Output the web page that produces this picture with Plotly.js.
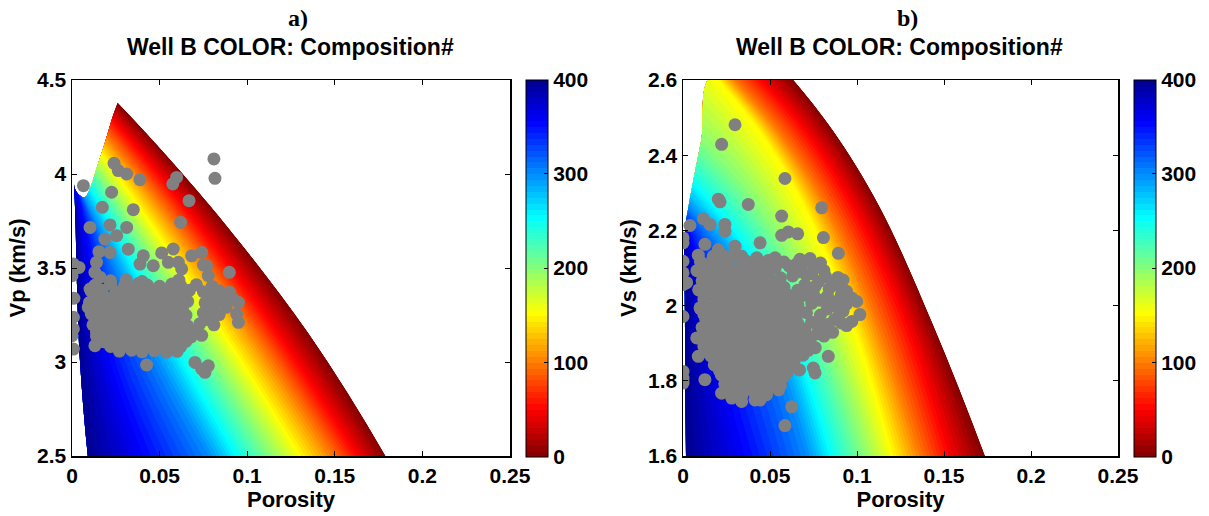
<!DOCTYPE html>
<html>
<head>
<meta charset="utf-8">
<script src="https://cdn.plot.ly/plotly-3.0.1.min.js"></script>
<style>
  html, body { margin: 0; padding: 0; background: #fff; }
  #chart { width: 1209px; height: 516px; }
</style>
</head>
<body>
<div id="chart"></div>
<script>
// Composition numbers of the model iso-lines (colour variable)
const compositionLevels = [0, 50, 100, 150, 200, 250, 300, 350, 400];
const curveStations = [0, 1, 2, 3, 4];

// Panel a: porosity / Vp of each iso-composition line, rows run from the upper boundary down to Vp = 2.5
const vpModelPhi = [
  [0.026, 0.0228, 0.0198, 0.0168, 0.0137, 0.0105, 0.0068, 0.0035, 0.0011],
  [0.054, 0.0473, 0.0416, 0.0356, 0.0296, 0.0236, 0.0171, 0.0089, 0.0020],
  [0.0885, 0.0775, 0.0685, 0.0590, 0.0494, 0.0401, 0.0296, 0.0147, 0.0027],
  [0.1346, 0.1195, 0.1070, 0.0933, 0.0792, 0.0646, 0.0495, 0.0251, 0.0045],
  [0.179, 0.163, 0.148, 0.131, 0.113, 0.095, 0.078, 0.045, 0.009]
];
const vpModelVp = [
  [4.38, 4.295, 4.20, 4.11, 4.02, 3.93, 3.876, 3.895, 3.96],
  [4.098, 4.026, 3.945, 3.868, 3.792, 3.716, 3.67, 3.686, 3.741],
  [3.722, 3.667, 3.605, 3.547, 3.488, 3.43, 3.394, 3.407, 3.449],
  [3.158, 3.128, 3.095, 3.064, 3.032, 3.0, 2.982, 2.988, 3.011],
  [2.5, 2.5, 2.5, 2.5, 2.5, 2.5, 2.5, 2.5, 2.5]
];

// Panel b: porosity / Vs of each iso-composition line, rows run from the upper boundary down to Vs = 1.6
const vsModelPhi = [
  [0.0597, 0.041, 0.0255, 0.0178, 0.0105, 0.0058, 0.0032, 0.0016, 0.0008],
  [0.086, 0.070, 0.0540, 0.0445, 0.0350, 0.0270, 0.0205, 0.0095, 0.0009],
  [0.113, 0.098, 0.0820, 0.0705, 0.0585, 0.0475, 0.0375, 0.0172, 0.0011],
  [0.143, 0.128, 0.1110, 0.0980, 0.0830, 0.0685, 0.0555, 0.0268, 0.0013],
  [0.1736, 0.153, 0.136, 0.121, 0.104, 0.086, 0.071, 0.040, 0.0017]
];
const vsModelVs = [
  [2.62, 2.62, 2.62, 2.615, 2.44, 2.33, 2.265, 2.22, 2.17],
  [2.467, 2.467, 2.467, 2.463, 2.314, 2.2205, 2.165, 2.127, 2.0845],
  [2.263, 2.263, 2.263, 2.26, 2.146, 2.0745, 2.032, 2.003, 1.9705],
  [1.957, 1.957, 1.957, 1.955, 1.894, 1.8555, 1.833, 1.817, 1.80],
  [1.6, 1.6, 1.6, 1.6, 1.6, 1.6, 1.6, 1.6, 1.6]
];

// Well B log samples: porosity and Vp (km/s)
const wellPorosityA = [
  0.081, 0.0816, 0.0065, 0.024, 0.0264, 0.0312, 0.0388, 0.0597, 0.0575, 0.0226, 0.0173, 0.035, 0.0668,
  0.0103, 0.0217, 0.0312, 0.0255, 0.0188, 0.062, 0.0154, 0.0217, 0.0321, 0.0407, 0.0464, 0.0512, 0.0578,
  0.055, 0.0626, 0.0683, 0.074, 0.075, 0.0778, 0.0898, 0.0008, 0.0, 0.004, 0.0011, 0.014, 0.0131, 0.0103,
  0.016, 0.0388, 0.0607, 0.0769, 0.0008, 0.0008, 0.0, 0.0008, 0.0093, 0.0131, 0.014, 0.092, 0.095, 0.094,
  0.095, 0.0702, 0.074, 0.0778, 0.0759, 0.0426,
  0.022, 0.031, 0.040, 0.061,
  0.013, 0.022, 0.030, 0.038, 0.043, 0.050, 0.057, 0.062, 0.071, 0.080,
  0.011, 0.017, 0.025, 0.033, 0.040, 0.047, 0.054, 0.060, 0.067, 0.075, 0.084, 0.090,
  0.014, 0.020, 0.028, 0.036, 0.044, 0.051, 0.058, 0.064, 0.079, 0.087,
  0.010, 0.018, 0.024, 0.031, 0.039, 0.046, 0.053, 0.061, 0.066, 0.076, 0.083,
  0.013, 0.021, 0.027, 0.035, 0.042, 0.049, 0.056, 0.063, 0.080, 0.088,
  0.011, 0.017, 0.024, 0.030, 0.038, 0.045, 0.052, 0.059, 0.065, 0.075, 0.084,
  0.015, 0.021, 0.028, 0.034, 0.041, 0.048, 0.055, 0.062, 0.078,
  0.012, 0.019, 0.025, 0.032, 0.039, 0.046, 0.052, 0.059, 0.066, 0.073, 0.081,
  0.016, 0.023, 0.029, 0.036, 0.043, 0.050, 0.057, 0.063, 0.070,
  0.014, 0.020, 0.027, 0.034, 0.040, 0.047, 0.054, 0.061, 0.068, 0.074,
  0.018, 0.024, 0.031, 0.038, 0.044, 0.051, 0.058, 0.065,
  0.022, 0.028, 0.035, 0.041, 0.048, 0.055, 0.062,
  0.027, 0.034, 0.040, 0.047, 0.054, 0.060
];
const wellVp = [
  4.08, 3.977, 3.938, 4.057, 4.018, 4.0, 3.97, 3.982, 3.947, 3.903, 3.823, 3.81, 3.858,
  3.716, 3.729, 3.716, 3.672, 3.654, 3.743, 3.587, 3.583, 3.60, 3.565, 3.512, 3.58, 3.601,
  3.53, 3.495, 3.565, 3.583, 3.516, 3.459, 3.477, 3.521, 3.459, 3.503, 3.339, 3.53, 3.477, 3.388,
  3.451, 3.521, 3.53, 3.512, 3.238, 3.176, 3.14, 3.069, 3.291, 3.087, 3.158, 3.335, 3.317, 3.255,
  3.211, 2.998, 2.963, 2.98, 2.945, 2.984,
  3.432, 3.437, 3.428, 3.435,
  3.408, 3.414, 3.405, 3.418, 3.409, 3.403, 3.415, 3.407, 3.411, 3.402,
  3.376, 3.382, 3.373, 3.385, 3.378, 3.371, 3.384, 3.375, 3.381, 3.374, 3.379, 3.371,
  3.348, 3.342, 3.354, 3.346, 3.351, 3.339, 3.352, 3.344, 3.348, 3.34,
  3.317, 3.324, 3.315, 3.321, 3.312, 3.326, 3.318, 3.311, 3.323, 3.315, 3.321,
  3.288, 3.293, 3.284, 3.295, 3.287, 3.281, 3.292, 3.285, 3.282, 3.291,
  3.256, 3.262, 3.254, 3.265, 3.258, 3.251, 3.263, 3.256, 3.249, 3.26, 3.252,
  3.228, 3.234, 3.225, 3.232, 3.226, 3.235, 3.222, 3.231, 3.225,
  3.197, 3.203, 3.194, 3.201, 3.193, 3.204, 3.196, 3.2, 3.192, 3.204, 3.198,
  3.168, 3.174, 3.165, 3.172, 3.163, 3.175, 3.167, 3.171, 3.164,
  3.137, 3.143, 3.134, 3.141, 3.132, 3.145, 3.136, 3.139, 3.133, 3.142,
  3.108, 3.114, 3.105, 3.111, 3.103, 3.115, 3.107, 3.11,
  3.083, 3.088, 3.08, 3.086, 3.078, 3.089, 3.081,
  3.058, 3.063, 3.054, 3.061, 3.052, 3.057
];

// Well B log samples: porosity and Vs (km/s)
const wellPorosityB = [
  0.0299, 0.0222, 0.0586, 0.0203, 0.0213, 0.0375, 0.0797, 0.0567, 0.0117, 0.0155, 0.0241, 0.0241, 0.004,
  0.0567, 0.0605, 0.0659, 0.0807, 0.0443, 0.0, 0.0, 0.0126, 0.0299, 0.0203, 0.0337, 0.028, 0.0893, 0.0088,
  0.0174, 0.0222, 0.0424, 0.0529, 0.0672, 0.073, 0.0, 0.0, 0.0, 0.0, 0.0, 0.0, 0.0, 0.0021, 0.0098,
  0.0079, 0.0088, 0.0126, 0.0222, 0.028, 0.0337, 0.0414, 0.0443, 0.0625, 0.0586, 0.0749, 0.0759, 0.0835,
  0.0998, 0.1017,
  0.010, 0.017, 0.024, 0.036, 0.043, 0.049, 0.058, 0.065, 0.071, 0.079,
  0.013, 0.020, 0.027, 0.033, 0.039, 0.046, 0.053, 0.061, 0.068, 0.075,
  0.008, 0.015, 0.021, 0.028, 0.034, 0.040, 0.046, 0.067, 0.074, 0.081,
  0.012, 0.019, 0.024, 0.031, 0.037, 0.043, 0.049, 0.056, 0.063, 0.071, 0.082, 0.089,
  0.011, 0.018, 0.025, 0.031, 0.037, 0.044, 0.050, 0.078, 0.086, 0.092,
  0.013, 0.019, 0.026, 0.032, 0.038, 0.045, 0.051, 0.058, 0.070, 0.076, 0.089,
  0.009, 0.016, 0.022, 0.029, 0.035, 0.041, 0.048, 0.054, 0.066, 0.072, 0.084, 0.094,
  0.012, 0.019, 0.025, 0.032, 0.038, 0.044, 0.051, 0.060, 0.069, 0.075, 0.083, 0.091,
  0.012, 0.019, 0.026, 0.032, 0.038, 0.045, 0.051, 0.057, 0.063, 0.079, 0.088, 0.097,
  0.014, 0.021, 0.028, 0.035, 0.041, 0.048, 0.054, 0.060, 0.066, 0.074, 0.086, 0.094,
  0.010, 0.017, 0.023, 0.030, 0.036, 0.042, 0.049, 0.055, 0.061, 0.067, 0.083, 0.092,
  0.012, 0.020, 0.026, 0.033, 0.039, 0.045, 0.052, 0.058, 0.064, 0.071, 0.079, 0.090,
  0.013, 0.020, 0.027, 0.033, 0.039, 0.046, 0.052, 0.058, 0.065, 0.087, 0.097,
  0.015, 0.021, 0.028, 0.034, 0.040, 0.047, 0.053, 0.059, 0.066, 0.074, 0.083, 0.091,
  0.011, 0.018, 0.024, 0.031, 0.037, 0.043, 0.050, 0.056, 0.062, 0.070, 0.078, 0.094,
  0.013, 0.020, 0.027, 0.033, 0.039, 0.045, 0.051, 0.057, 0.064, 0.070, 0.077, 0.086,
  0.014, 0.021, 0.028, 0.034, 0.040, 0.047, 0.053, 0.060, 0.066, 0.073, 0.081,
  0.016, 0.022, 0.029, 0.035, 0.041, 0.048, 0.054, 0.060, 0.067, 0.073,
  0.012, 0.019, 0.025, 0.032, 0.038, 0.044, 0.051, 0.057, 0.063, 0.076,
  0.014, 0.021, 0.027, 0.033, 0.040, 0.046, 0.052, 0.058, 0.065, 0.072,
  0.016, 0.023, 0.029, 0.035, 0.042, 0.048, 0.054, 0.061, 0.069,
  0.019, 0.026, 0.032, 0.038, 0.045, 0.051, 0.057, 0.064,
  0.018, 0.025, 0.031, 0.037, 0.044, 0.050, 0.056, 0.063,
  0.021, 0.028, 0.034, 0.041, 0.047, 0.053, 0.060, 0.067,
  0.022, 0.028, 0.034, 0.040, 0.047, 0.053, 0.059,
  0.025, 0.031, 0.038, 0.044, 0.050, 0.057,
  0.024, 0.031, 0.037, 0.044, 0.050, 0.056,
  0.030, 0.037, 0.043, 0.049, 0.055,
  0.027, 0.034, 0.041, 0.048
];
const wellVs = [
  2.481, 2.429, 2.338, 2.283, 2.276, 2.269, 2.26, 2.238, 2.231, 2.216, 2.216, 2.198, 2.213,
  2.187, 2.196, 2.191, 2.181, 2.167, 2.18, 2.167, 2.163, 2.158, 2.149, 2.131, 2.131, 2.139, 2.134,
  2.131, 2.136, 2.127, 2.127, 2.123, 2.125, 2.118, 2.087, 2.056, 1.971, 1.825, 1.807, 1.794, 2.061, 1.994,
  1.914, 1.865, 1.803, 1.767, 1.754, 1.745, 1.749, 1.749, 1.731, 1.681, 1.834, 1.821, 1.865,
  2.011, 1.976,
  2.117, 2.121, 2.114, 2.119, 2.112, 2.12, 2.116, 2.11, 2.118, 2.113,
  2.103, 2.107, 2.101, 2.106, 2.102, 2.108, 2.100, 2.105, 2.102, 2.106,
  2.093, 2.087, 2.095, 2.089, 2.096, 2.086, 2.094, 2.09, 2.085, 2.093,
  2.077, 2.081, 2.075, 2.079, 2.082, 2.076, 2.08, 2.074, 2.079, 2.081, 2.077, 2.075,
  2.066, 2.061, 2.069, 2.063, 2.07, 2.06, 2.067, 2.064, 2.06, 2.068,
  2.052, 2.056, 2.05, 2.055, 2.051, 2.057, 2.053, 2.049, 2.055, 2.051, 2.054,
  2.042, 2.036, 2.044, 2.038, 2.045, 2.035, 2.043, 2.037, 2.041, 2.035, 2.045, 2.038,
  2.027, 2.031, 2.025, 2.03, 2.026, 2.032, 2.024, 2.029, 2.027, 2.031, 2.025, 2.029,
  2.016, 2.011, 2.019, 2.012, 2.02, 2.01, 2.017, 2.013, 2.019, 2.014, 2.011, 2.02,
  2.002, 2.006, 2.0, 2.005, 2.001, 2.007, 1.999, 2.004, 2.002, 2.006, 2.0, 2.004,
  1.992, 1.986, 1.994, 1.988, 1.995, 1.985, 1.993, 1.987, 1.994, 1.986, 1.991, 1.985,
  1.977, 1.981, 1.975, 1.98, 1.976, 1.982, 1.974, 1.979, 1.977, 1.981, 1.975, 1.979,
  1.966, 1.961, 1.968, 1.962, 1.969, 1.96, 1.967, 1.962, 1.968, 1.963, 1.958,
  1.952, 1.956, 1.95, 1.955, 1.951, 1.957, 1.949, 1.954, 1.952, 1.956, 1.95, 1.954,
  1.942, 1.936, 1.944, 1.938, 1.945, 1.935, 1.943, 1.937, 1.944, 1.938, 1.943, 1.947,
  1.927, 1.931, 1.925, 1.93, 1.926, 1.932, 1.924, 1.929, 1.927, 1.931, 1.925, 1.929,
  1.916, 1.911, 1.919, 1.912, 1.92, 1.91, 1.917, 1.912, 1.918, 1.912, 1.919,
  1.902, 1.906, 1.9, 1.905, 1.901, 1.907, 1.899, 1.904, 1.902, 1.906,
  1.892, 1.886, 1.894, 1.888, 1.895, 1.885, 1.893, 1.887, 1.894, 1.888,
  1.877, 1.881, 1.875, 1.88, 1.876, 1.882, 1.874, 1.879, 1.877, 1.881,
  1.866, 1.861, 1.869, 1.862, 1.869, 1.86, 1.867, 1.862, 1.868,
  1.852, 1.856, 1.85, 1.855, 1.851, 1.857, 1.849, 1.854,
  1.842, 1.836, 1.844, 1.838, 1.845, 1.835, 1.843, 1.838,
  1.827, 1.831, 1.825, 1.83, 1.826, 1.832, 1.824, 1.829,
  1.816, 1.811, 1.819, 1.812, 1.82, 1.81, 1.817,
  1.802, 1.806, 1.8, 1.805, 1.801, 1.807,
  1.792, 1.786, 1.794, 1.788, 1.795, 1.787,
  1.777, 1.781, 1.775, 1.78, 1.776,
  1.768, 1.762, 1.769, 1.763
];

const xTicks = [0, 0.05, 0.1, 0.15, 0.2, 0.25];
const vpTicks = [2.5, 3, 3.5, 4, 4.5];
const vsTicks = [1.6, 1.8, 2, 2.2, 2.4, 2.6];
const colorTicks = [0, 100, 200, 300, 400];

// Reversed jet: 0 = dark red, 400 = dark blue
const jetReversed = [
  [0, '#800000'], [0.127, '#ff0000'], [0.381, '#ffff00'],
  [0.635, '#00ffff'], [0.889, '#0000ff'], [1, '#00008f']
];

const W = 1209, H = 516;
const sans = 'Liberation Sans, Arial, Helvetica, sans-serif';
const serif = 'Liberation Serif, Times New Roman, serif';
const tickFont = { family: sans, size: 21, color: '#000', weight: 'bold' };
const labelFont = { family: sans, size: 22, color: '#000', weight: 'bold' };
const headFont = { family: sans, size: 23, color: '#000', weight: 'bold' };
const panelFont = { family: serif, size: 24, color: '#000', weight: 'bold' };

const hiddenCarpetAxis = {
  showgrid: false, showline: false, showticklabels: 'none', startline: false, endline: false,
  minorgridcount: 0, gridcolor: 'rgba(0,0,0,0)', linecolor: 'rgba(0,0,0,0)', smoothing: 1
};

function modelTraces(id, phi, vel, xa, ya, cbLeft) {
  const z = phi.map(() => compositionLevels.slice());
  return [
    {
      type: 'carpet', carpet: id, a: compositionLevels, b: curveStations,
      x: phi, y: vel, xaxis: xa, yaxis: ya,
      aaxis: hiddenCarpetAxis, baxis: hiddenCarpetAxis
    },
    {
      type: 'contourcarpet', carpet: id, a: compositionLevels, b: curveStations, z: z,
      xaxis: xa, yaxis: ya,
      autocontour: false,
      contours: { start: 0, end: 400, size: 6.25, coloring: 'fill', showlines: false },
      line: { width: 0 },
      colorscale: jetReversed, zauto: false, zmin: 0, zmax: 400,
      colorbar: {
        x: cbLeft / W, xanchor: 'left', y: (H - 268) / H, yanchor: 'middle',
        len: 377 / H, lenmode: 'fraction', thickness: 22, thicknessmode: 'pixels',
        outlinewidth: 1, outlinecolor: '#000', bordercolor: 'rgba(0,0,0,0)', borderwidth: 0,
        tickmode: 'array', tickvals: colorTicks, ticks: 'inside', ticklen: 4,
        tickcolor: '#000', tickfont: tickFont, xpad: 0, ypad: 0
      }
    }
  ];
}

const scatterStyle = { color: '#808080', size: 13, line: { width: 0 } };

const data = [
  ...modelTraces('ca', vpModelPhi, vpModelVp, 'x', 'y', 526),
  { type: 'scatter', mode: 'markers', x: wellPorosityA, y: wellVp, xaxis: 'x', yaxis: 'y',
    marker: scatterStyle, hoverinfo: 'skip' },
  ...modelTraces('cb', vsModelPhi, vsModelVs, 'x2', 'y2', 1134),
  { type: 'scatter', mode: 'markers', x: wellPorosityB, y: wellVs, xaxis: 'x2', yaxis: 'y2',
    marker: scatterStyle, hoverinfo: 'skip' }
];

function xAxis(domain, anchor) {
  return {
    domain: domain, anchor: anchor, range: [0, 0.25], tickmode: 'array', tickvals: xTicks,
    ticks: 'inside', ticklen: 5, tickwidth: 1, tickcolor: '#000',
    showline: true, linecolor: '#000', linewidth: 1.5, mirror: 'allticks',
    showgrid: false, zeroline: false, tickfont: tickFont,
    title: { text: 'Porosity', font: labelFont, standoff: 4 }
  };
}
function yAxis(domain, anchor, range, ticks, label) {
  return {
    domain: domain, anchor: anchor, range: range, tickmode: 'array', tickvals: ticks,
    ticks: 'inside', ticklen: 5, tickwidth: 1, tickcolor: '#000',
    showline: true, linecolor: '#000', linewidth: 1.5, mirror: 'allticks',
    showgrid: false, zeroline: false, tickfont: tickFont,
    title: { text: label, font: labelFont, standoff: 5 }
  };
}

const yDom = [(H - 456) / H, (H - 80) / H];

function titleNote(text, xc, yc, font) {
  return { text: text, xref: 'paper', yref: 'paper', x: xc / W, y: 1 - yc / H,
    xanchor: 'center', yanchor: 'middle', showarrow: false, font: font };
}

const layout = {
  width: W, height: H,
  margin: { l: 0, r: 0, t: 0, b: 0 },
  paper_bgcolor: '#fff', plot_bgcolor: '#fff',
  showlegend: false,
  xaxis: xAxis([72 / W, 510 / W], 'y'),
  yaxis: yAxis(yDom, 'x', [2.5, 4.5], vpTicks, 'Vp (km/s)'),
  xaxis2: xAxis([683 / W, 1118 / W], 'y2'),
  yaxis2: yAxis(yDom, 'x2', [1.6, 2.6], vsTicks, 'Vs (km/s)'),
  annotations: [
    titleNote('a)', 298, 18, panelFont),
    titleNote('Well B COLOR: Composition#', 290, 47, headFont),
    titleNote('b)', 907, 18, panelFont),
    titleNote('Well B COLOR: Composition#', 899, 47, headFont)
  ]
};

Plotly.newPlot('chart', data, layout, { staticPlot: true, displayModeBar: false });
</script>
</body>
</html>
